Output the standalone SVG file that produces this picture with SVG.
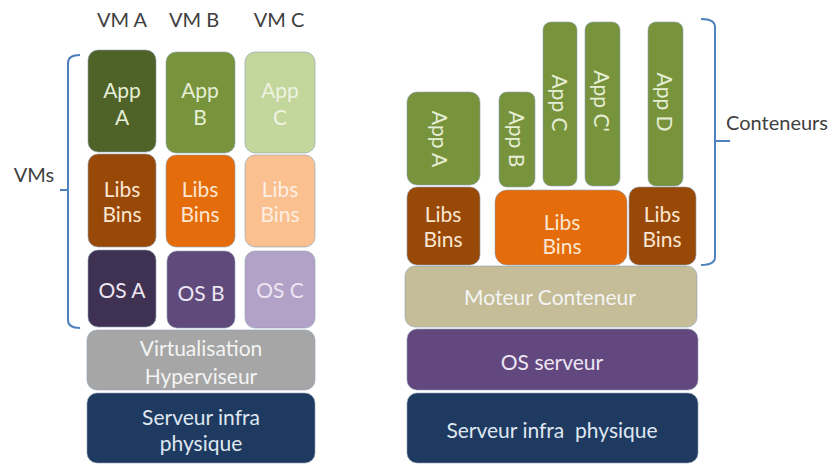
<svg xmlns="http://www.w3.org/2000/svg" width="832" height="468" viewBox="0 0 832 468">
  <style>
    text { font-family: Lato, "Liberation Sans", sans-serif; font-size: 21px; text-anchor: middle; }
    .box { stroke: #8ea0b4; stroke-width: 1; stroke-opacity: 0.6; }
    .lbl { fill: #404040; font-size: 20px; }
    .t-green { fill: #e6eed6; }
    .t-pale { fill: #eef3e2; }
    .t-orange { fill: #fbe6d2; }
    .t-peach { fill: #fdeee2; }
    .t-purple { fill: #ece6f2; }
    .t-light { fill: #f4f4f4; }
    .t-navy { fill: #dfe7f1; }
    .brace { fill: none; stroke: #4f81bd; stroke-width: 2; }
    .rot { dominant-baseline: central; }
  </style>

  <rect width="832" height="468" fill="#ffffff"/>

  <!-- Virtual machine stack -->
  <g id="hdr-vma"><text class="lbl" x="122" y="27">VM A</text></g>
  <g id="hdr-vmb"><text class="lbl" x="194" y="27">VM B</text></g>
  <g id="hdr-vmc"><text class="lbl" x="279" y="27">VM C</text></g>
  <g id="lbl-vms"><text class="lbl" x="34" y="182">VMs</text></g>

  <g id="vm-app-a">
    <rect class="box" x="88" y="50" width="68" height="102" rx="10" fill="#4f6228"/>
    <text class="t-green" x="122" y="98">App</text>
    <text class="t-green" x="122" y="125">A</text>
  </g>
  <g id="vm-app-b">
    <rect class="box" x="166" y="52" width="69" height="101" rx="10" fill="#77933c"/>
    <text class="t-green" x="200" y="98">App</text>
    <text class="t-green" x="200" y="125">B</text>
  </g>
  <g id="vm-app-c">
    <rect class="box" x="245" y="52" width="70" height="101" rx="10" fill="#c3d69b"/>
    <text class="t-pale" x="280" y="98">App</text>
    <text class="t-pale" x="280" y="125">C</text>
  </g>

  <g id="vm-libs-a">
    <rect class="box" x="88" y="154" width="68" height="93" rx="10" fill="#984807"/>
    <text class="t-orange" x="122" y="197">Libs</text>
    <text class="t-orange" x="122" y="222">Bins</text>
  </g>
  <g id="vm-libs-b">
    <rect class="box" x="166" y="155" width="69" height="92" rx="10" fill="#e46c0a"/>
    <text class="t-orange" x="200" y="197">Libs</text>
    <text class="t-orange" x="200" y="222">Bins</text>
  </g>
  <g id="vm-libs-c">
    <rect class="box" x="245" y="155" width="70" height="92" rx="10" fill="#fac090"/>
    <text class="t-peach" x="280" y="197">Libs</text>
    <text class="t-peach" x="280" y="222">Bins</text>
  </g>

  <g id="vm-os-a">
    <rect class="box" x="88" y="250" width="68" height="77" rx="10" fill="#3f3151"/>
    <text class="t-purple" x="122" y="298">OS A</text>
  </g>
  <g id="vm-os-b">
    <rect class="box" x="167" y="251" width="68" height="77" rx="10" fill="#604a7b"/>
    <text class="t-purple" x="201" y="301">OS B</text>
  </g>
  <g id="vm-os-c">
    <rect class="box" x="245" y="251" width="70" height="77" rx="10" fill="#b3a2c7"/>
    <text class="t-purple" x="280" y="298">OS C</text>
  </g>

  <g id="vm-hypervisor">
    <rect class="box" x="87" y="330" width="228" height="60" rx="10" fill="#a6a6a6"/>
    <text class="t-light" x="201" y="356">Virtualisation</text>
    <text class="t-light" x="201" y="384">Hyperviseur</text>
  </g>
  <g id="vm-server">
    <rect class="box" x="87" y="393" width="228" height="70" rx="10" fill="#1f3a60"/>
    <text class="t-navy" x="201" y="425">Serveur infra</text>
    <text class="t-navy" x="201" y="451">physique</text>
  </g>

  <!-- Container stack -->
  <g id="lbl-conteneurs"><text class="lbl" x="777" y="130">Conteneurs</text></g>

  <g id="ct-app-a">
    <rect class="box" x="407" y="92" width="73" height="93" rx="10" fill="#77933c"/>
    <text class="t-green rot" transform="translate(440 139) rotate(90)">App A</text>
  </g>
  <g id="ct-app-b">
    <rect class="box" x="499" y="92" width="36" height="95" rx="8" fill="#77933c"/>
    <text class="t-green rot" transform="translate(517 139) rotate(90)">App B</text>
  </g>
  <g id="ct-app-c">
    <rect class="box" x="543" y="22" width="34" height="164" rx="8" fill="#77933c"/>
    <text class="t-green rot" transform="translate(560 103) rotate(90)">App C</text>
  </g>
  <g id="ct-app-c2">
    <rect class="box" x="585" y="22" width="35" height="164" rx="8" fill="#77933c"/>
    <text class="t-green rot" transform="translate(602 101) rotate(90)">App C'</text>
  </g>
  <g id="ct-app-d">
    <rect class="box" x="648" y="22" width="35" height="164" rx="8" fill="#77933c"/>
    <text class="t-green rot" transform="translate(665 102) rotate(90)">App D</text>
  </g>

  <g id="ct-libs-a">
    <rect class="box" x="407" y="187" width="73" height="78" rx="10" fill="#984807"/>
    <text class="t-orange" x="443" y="222">Libs</text>
    <text class="t-orange" x="443" y="247">Bins</text>
  </g>
  <g id="ct-libs-shared">
    <rect class="box" x="495" y="190" width="132" height="75" rx="12" fill="#e46c0a"/>
    <text class="t-orange" x="562" y="230">Libs</text>
    <text class="t-orange" x="562" y="254">Bins</text>
  </g>
  <g id="ct-libs-d">
    <rect class="box" x="629" y="187" width="67" height="78" rx="10" fill="#984807"/>
    <text class="t-orange" x="662" y="222">Libs</text>
    <text class="t-orange" x="662" y="247">Bins</text>
  </g>

  <g id="ct-engine">
    <rect class="box" x="405" y="266" width="292" height="61" rx="10" fill="#c4bd97"/>
    <text class="t-light" x="550" y="305">Moteur Conteneur</text>
  </g>
  <g id="ct-os">
    <rect class="box" x="407" y="329" width="291" height="61" rx="10" fill="#63477f"/>
    <text class="t-purple" x="552" y="370">OS serveur</text>
  </g>
  <g id="ct-server">
    <rect class="box" x="407" y="393" width="291" height="70" rx="10" fill="#1f3a60"/>
    <text class="t-navy" x="552" y="438" xml:space="preserve">Serveur infra  physique</text>
  </g>

  <!-- Grouping braces -->
  <g id="connectors">
    <path class="brace" d="M80,55 Q68,55 68,63 V320 Q68,328 80,328"/>
    <path class="brace" d="M68,190 H60"/>
    <path class="brace" d="M701,19 Q715,19 715,27 V257 Q715,265 701,265"/>
    <path class="brace" d="M715,141 H730"/>
  </g>
</svg>
